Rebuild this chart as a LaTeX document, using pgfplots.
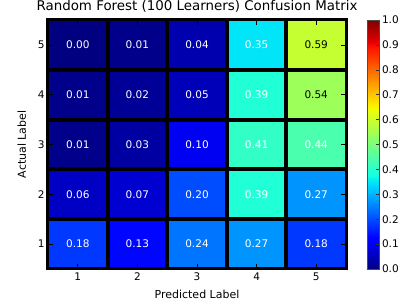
\documentclass[border=0pt]{standalone}
\usepackage{fontspec}
\setmainfont{DejaVu Sans}
\usepackage{pgfplots}
\pgfplotsset{compat=1.18}
\pgfplotsset{
 colormap={mpljet}{rgb(0pt)=(0,0,0.5) rgb(110pt)=(0,0,1) rgb(125pt)=(0,0,1) rgb(340pt)=(0,0.86,1) rgb(350pt)=(0,0.9,0.968) rgb(375pt)=(0.081,1,0.887) rgb(640pt)=(0.935,1,0.032) rgb(650pt)=(0.968,0.963,0) rgb(660pt)=(1,0.926,0) rgb(890pt)=(1,0.074,0) rgb(910pt)=(0.909,0,0) rgb(1000pt)=(0.5,0,0)}
}
\pgfplotstableread{
x y c
1 1 0.18
2 1 0.13
3 1 0.24
4 1 0.27
5 1 0.18
1 2 0.06
2 2 0.07
3 2 0.20
4 2 0.39
5 2 0.27
1 3 0.01
2 3 0.03
3 3 0.10
4 3 0.41
5 3 0.44
1 4 0.01
2 4 0.02
3 4 0.05
4 4 0.39
5 4 0.54
1 5 0.00
2 5 0.01
3 5 0.04
4 5 0.35
5 5 0.59
}\cm
\pgfplotstableread{
x y t
1 1 0.18
2 1 0.13
3 1 0.24
4 1 0.27
5 1 0.18
1 2 0.06
2 2 0.07
3 2 0.20
4 2 0.39
5 2 0.27
1 3 0.01
2 3 0.03
3 3 0.10
4 3 0.41
5 3 0.44
1 4 0.01
2 4 0.02
3 4 0.05
4 4 0.39
1 5 0.00
2 5 0.01
3 5 0.04
4 5 0.35
}\whitelabels
\pgfplotstableread{
x y t
5 4 0.54
5 5 0.59
}\blacklabels
\begin{document}
\begin{tikzpicture}
\begin{axis}[
  name=main,
  scale only axis,
  width=298pt, height=249pt,
  xmin=0.5, xmax=5.5, ymin=0.5, ymax=5.5,
  xtick={1,2,3,4,5}, ytick={1,2,3,4,5},
  minor xtick={1.5,2.5,3.5,4.5}, minor ytick={1.5,2.5,3.5,4.5},
  xminorgrids, yminorgrids,
  minor grid style={black, line width=4pt},
  minor tick length=0pt,
  major tick length=5pt,
  tick align=inside,
  tick style={black, line width=0.6pt},
  axis line style={black, line width=3pt},
  axis on top,
  colormap name=mpljet,
  point meta min=0, point meta max=1,
  /pgf/number format/assume math mode=true,
  tick label style={font=\fontsize{10.5}{12}\selectfont},
  label style={font=\fontsize{11}{13}\selectfont},
  title style={font=\fontsize{13.4}{15}\selectfont, at={(0.5,1)}, anchor=south, yshift=-2pt},
  title={Random Forest (100 Learners) Confusion Matrix},
  xlabel={Predicted Label},
  ylabel={Actual Label},
  xlabel style={yshift=-3pt},
  ylabel style={yshift=5pt},
  colorbar,
  colorbar style={
    at={(parent axis.north east)}, anchor=north west, xshift=13pt,
    scale only axis, width=12pt, height=249pt,
    ytick={0,0.1,0.2,0.3,0.4,0.5,0.6,0.7,0.8,0.9,1},
    ytick pos=right,
    tick align=inside,
    major tick length=4pt,
    tick style={black!80, line width=0.5pt},
    axis line style={black!70, line width=0.8pt},
    /pgf/number format/assume math mode=true,
    yticklabel style={font=\fontsize{10.5}{12}\selectfont, xshift=-1pt,
      /pgf/number format/fixed, /pgf/number format/fixed zerofill,
      /pgf/number format/precision=1},
  },
]
\addplot[matrix plot*, mesh/cols=5, point meta=explicit] table[x=x, y=y, meta=c] {\cm};
\addplot[draw=none, mark=none, nodes near coords, point meta=explicit symbolic,
  every node near coord/.append style={anchor=center, text=white, font=\fontsize{10.5}{12}\selectfont}]
  table[x=x, y=y, meta=t] {\whitelabels};
\addplot[draw=none, mark=none, nodes near coords, point meta=explicit symbolic,
  every node near coord/.append style={anchor=center, text=black, font=\fontsize{10.5}{12}\selectfont}]
  table[x=x, y=y, meta=t] {\blacklabels};
\end{axis}
\pgfresetboundingbox
\path (main.south west) +(-48pt,-37pt) (main.north east) +(55pt,20pt);
\end{tikzpicture}
\end{document}
